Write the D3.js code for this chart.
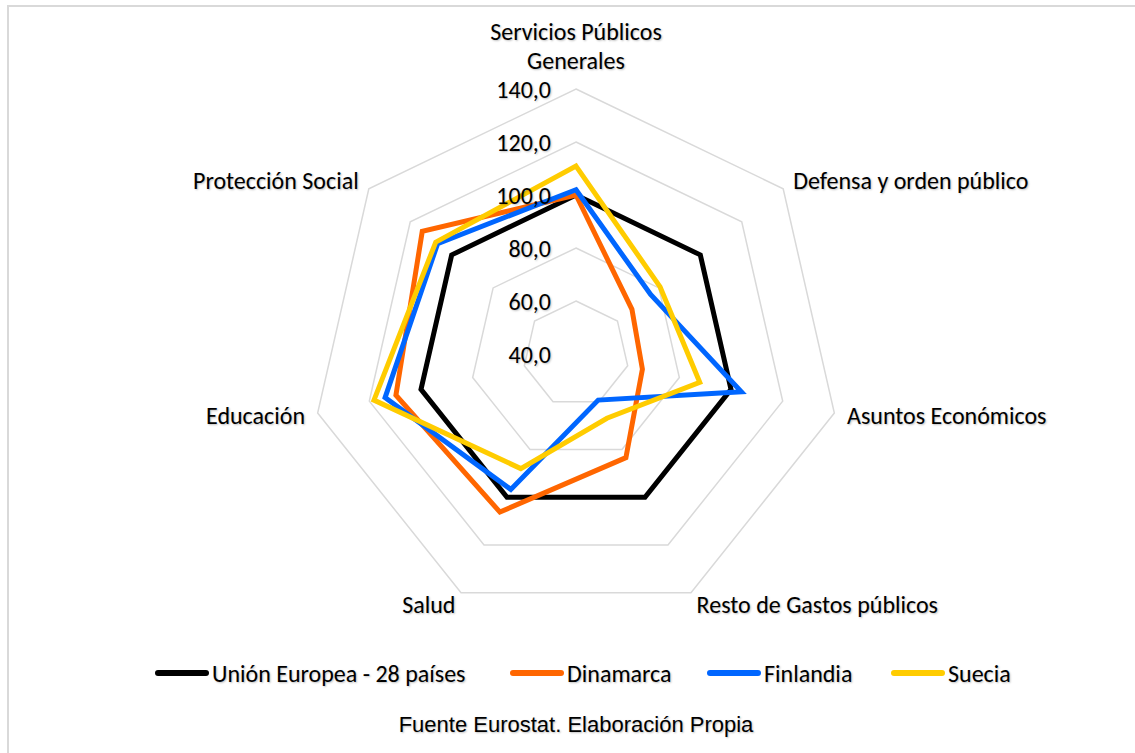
<!DOCTYPE html>
<html>
<head>
<meta charset="utf-8">
<script src="https://cdn.jsdelivr.net/npm/d3@7"></script>
<style>
  html, body { margin: 0; padding: 0; background: #fff; }
  svg text { text-shadow: 1px 1px 2px rgba(0,0,0,0.25); }
</style>
</head>
<body>
<svg id="chart" width="1135" height="753"></svg>
<script>
// ---- data ----
const categories = [
  ["Servicios Públicos", "Generales"],
  ["Defensa y orden público"],
  ["Asuntos Económicos"],
  ["Resto de Gastos públicos"],
  ["Salud"],
  ["Educación"],
  ["Protección Social"]
];
const seriesNames = ["Unión Europea - 28 países", "Dinamarca", "Finlandia", "Suecia"];
const ueValues        = [100, 100, 100, 100, 100, 100, 100];
const dinamarcaValues = [100, 67, 65.7, 83.4, 106.2, 109.7, 114.2];
const finlandiaValues = [102, 76, 104, 59.3, 96.7, 113.9, 106.8];
const sueciaValues    = [110.9, 80.6, 87.9, 66.9, 88, 118.2, 107.7];
const tickValues = [40, 60, 80, 100, 120, 140];
const sourceText = "Fuente Eurostat. Elaboración Propia";

const colors = ["#000000", "#ff6600", "#0066ff", "#ffcc00"];
const allSeries = [ueValues, dinamarcaValues, finlandiaValues, sueciaValues];

// ---- layout ----
const svg = d3.select("#chart");
const cx = 576, cy = 354, R = 265;
const labelFont = "Carlito, Lato, sans-serif";
const labelSize = 24;

// chart area border
svg.append("rect")
  .attr("x", 8).attr("y", 6).attr("width", 1140).attr("height", 760)
  .attr("fill", "none").attr("stroke", "#d9d9d9").attr("stroke-width", 2);

const r = d3.scaleLinear().domain([40, 140]).range([0, R]);
const n = categories.length;
const angle = d3.scaleLinear().domain([0, n]).range([0, 2 * Math.PI]);

const g = svg.append("g").attr("transform", `translate(${cx},${cy})`);

function pt(i, v) {
  const a = angle(i);
  return [r(v) * Math.sin(a), -r(v) * Math.cos(a)];
}

// grid rings
tickValues.filter(t => t > 40).forEach(t => {
  const pts = d3.range(n).map(i => pt(i, t));
  g.append("path")
    .attr("d", d3.line()(pts) + "Z")
    .attr("fill", "none")
    .attr("stroke", "#d9d9d9")
    .attr("stroke-width", 1.5);
});

// series
allSeries.forEach((vals, s) => {
  const pts = vals.map((v, i) => pt(i, v));
  g.append("path")
    .attr("d", d3.line()(pts) + "Z")
    .attr("fill", "none")
    .attr("stroke", colors[s])
    .attr("stroke-width", 5)
    .attr("stroke-linejoin", "miter");
});

// tick labels
const fmt = v => d3.format(".1f")(v).replace(".", ",");
tickValues.forEach(t => {
  g.append("text")
    .attr("x", -25)
    .attr("y", -r(t))
    .attr("text-anchor", "end")
    .attr("dominant-baseline", "central")
    .attr("font-family", labelFont)
    .attr("font-size", labelSize)
    .attr("fill", "#000")
    .text(fmt(t));
});

// category labels
categories.forEach((lines, i) => {
  const a = angle(i);
  const s = Math.sin(a);
  if (i === 0) {
    lines.forEach((ln, k) => {
      g.append("text")
        .attr("x", 0)
        .attr("y", -R - 58 + k * 29)
        .attr("text-anchor", "middle")
        .attr("dominant-baseline", "central")
        .attr("font-family", labelFont)
        .attr("font-size", labelSize)
        .text(ln);
    });
  } else {
    const rr = R + 13;
    g.append("text")
      .attr("x", rr * s)
      .attr("y", -rr * Math.cos(a))
      .attr("text-anchor", s > 0 ? "start" : "end")
      .attr("dominant-baseline", "central")
      .attr("font-family", labelFont)
      .attr("font-size", labelSize)
      .text(lines[0]);
  }
});

// legend
const legendX = [155, 510, 707, 891];
const leg = svg.append("g");
seriesNames.forEach((name, s) => {
  const x = legendX[s];
  leg.append("line")
    .attr("x1", x + 3).attr("x2", x + 51)
    .attr("y1", 673).attr("y2", 673)
    .attr("stroke", colors[s])
    .attr("stroke-width", 6)
    .attr("stroke-linecap", "round");
  leg.append("text")
    .attr("x", x + 57)
    .attr("y", 673)
    .attr("dominant-baseline", "central")
    .attr("font-family", labelFont)
    .attr("font-size", labelSize)
    .text(name);
});

// source
svg.append("text")
  .attr("x", 576)
  .attr("y", 724)
  .attr("text-anchor", "middle")
  .attr("dominant-baseline", "central")
  .attr("font-family", "'Liberation Sans Narrow', 'Liberation Sans', Arial, sans-serif")
  .attr("font-size", 22)
  .text(sourceText);
</script>
</body>
</html>
